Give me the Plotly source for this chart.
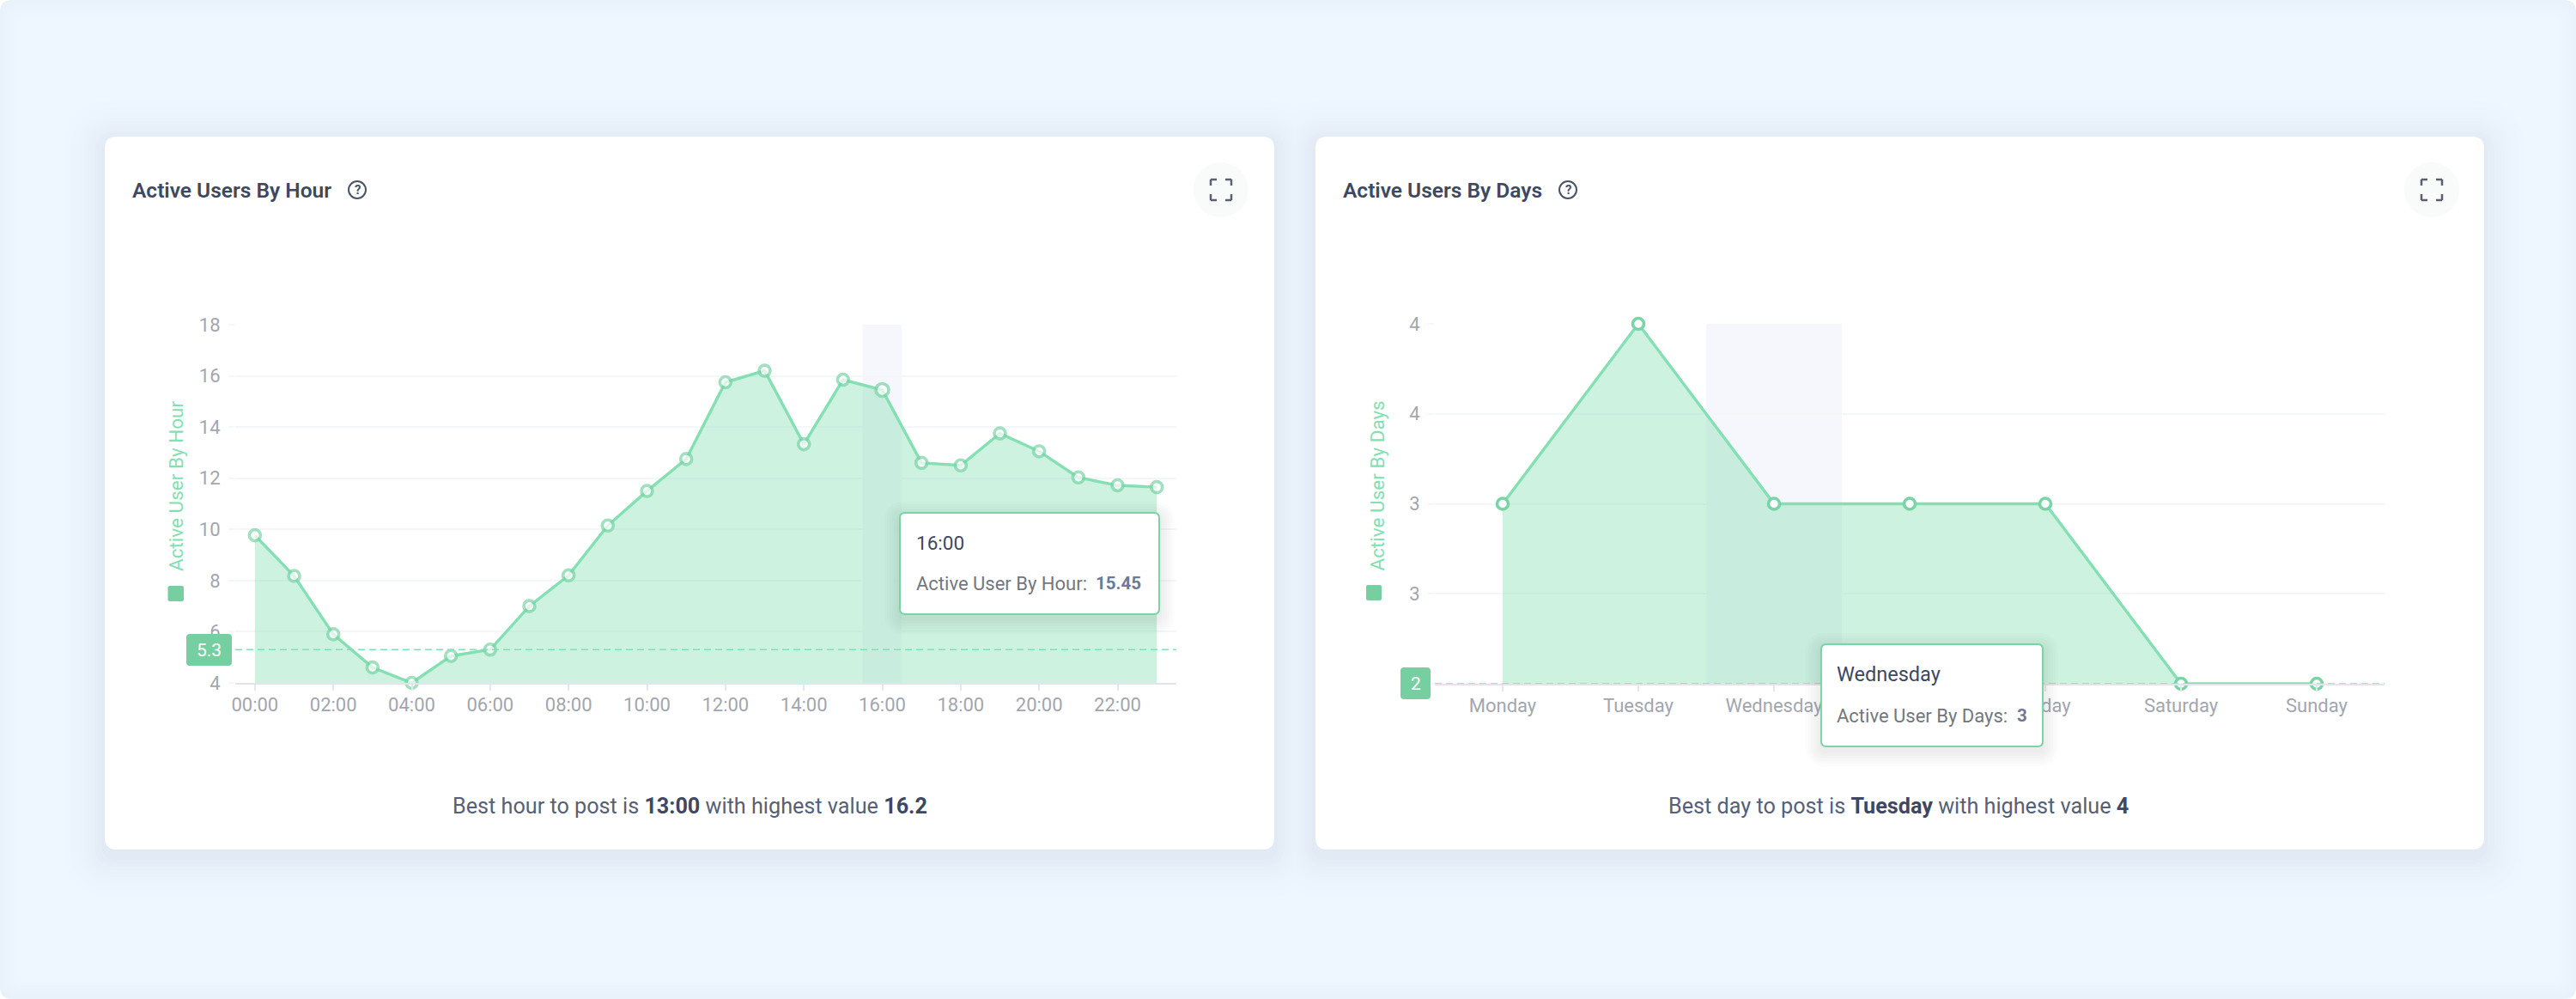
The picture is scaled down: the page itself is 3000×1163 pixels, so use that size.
import plotly.graph_objects as go

W, H = 3000, 1163

HOURS = [f"{h:02d}:00" for h in range(24)]
HOUR_VALUES = [9.77, 8.18, 5.9, 4.6, 4.0, 5.05, 5.3, 7.0, 8.2, 10.15, 11.5, 12.75,
               15.75, 16.2, 13.33, 15.85, 15.45, 12.6, 12.5, 13.75, 13.05, 12.03, 11.72, 11.65]
HOUR_TICKS = HOURS[::2]
HOUR_Y_TICKS = [4, 6, 8, 10, 12, 14, 16, 18]
HOUR_MARK = 5.3
HOUR_HOVER = 16

DAYS = ["Monday", "Tuesday", "Wednesday", "Thursday", "Friday", "Saturday", "Sunday"]
DAY_VALUES = [3, 4, 3, 3, 3, 2, 2]
DAY_Y_TICKS = [2, 2.5, 3, 3.5, 4]
DAY_Y_LABELS = ["2", "3", "3", "4", "4"]
DAY_MARK = 2
DAY_HOVER = 2

GREEN = "#84DFB2"
GREEN_D = "#7AD4A6"
FILL = "rgba(125,221,173,0.38)"
GRID = "#F5F6FA"
TICK = "#A3A6AF"
DARK = "#3E4860"
FONT = "Roboto"


def fx(x):
    return x / W


def fy(y):
    return 1 - y / H


def rr(x0, y0, x1, y1, r):
    X = lambda v: f"{fx(v):.6f}"
    Y = lambda v: f"{fy(v):.6f}"
    return (f"M{X(x0+r)},{Y(y0)} L{X(x1-r)},{Y(y0)} Q{X(x1)},{Y(y0)} {X(x1)},{Y(y0+r)} "
            f"L{X(x1)},{Y(y1-r)} Q{X(x1)},{Y(y1)} {X(x1-r)},{Y(y1)} "
            f"L{X(x0+r)},{Y(y1)} Q{X(x0)},{Y(y1)} {X(x0)},{Y(y1-r)} "
            f"L{X(x0)},{Y(y0+r)} Q{X(x0)},{Y(y0)} {X(x0+r)},{Y(y0)} Z")


shapes = []


def box(x0, y0, x1, y1, r, fill, line=None, lw=0, layer="above"):
    shapes.append(dict(type="path", xref="paper", yref="paper", path=rr(x0, y0, x1, y1, r),
                       fillcolor=fill, line=dict(color=line or "rgba(0,0,0,0)", width=lw), layer=layer))


def seg(x0, y0, x1, y1, color, width=2, layer="above"):
    shapes.append(dict(type="line", xref="paper", yref="paper", x0=fx(x0), y0=fy(y0), x1=fx(x1), y1=fy(y1),
                       line=dict(color=color, width=width), layer=layer))


annotations = []


def text(x, y, s, size, color, anchor="left", angle=0, weight=None):
    font = dict(family=FONT, size=size, color=color)
    if weight:
        font["weight"] = weight
    annotations.append(dict(xref="paper", yref="paper", x=fx(x), y=fy(y), text=s, showarrow=False,
                            xanchor=anchor, yanchor="middle", textangle=angle, font=font))


def mix(a, b, t):
    return "#" + "".join(f"{round(a[i] + (b[i] - a[i]) * t):02X}" for i in range(3))


BG = (238, 246, 255)
EDGE = (233, 241, 250)
SHADOW = (226, 234, 245)

# page background with soft inner edge
for i in range(6):
    box(i * 4, i * 4, W - i * 4, H - i * 4, max(14 - i * 2, 4), mix(EDGE, BG, i / 5), layer="below")

# cards with stacked soft shadow (opaque steps, outermost first)
CARDS = [(122, 159, 1484, 989), (1532, 159, 2893, 989)]
STEPS = 14
for i in range(STEPS):
    g = 56 - i * 4
    t = ((i + 1) / STEPS) ** 2
    for c in CARDS:
        box(c[0] - g, c[1] - g + 6, c[2] + g, c[3] + g + 8, 14 + g, mix(BG, SHADOW, t), layer="below")
for c in CARDS:
    box(*c, 14, "#FFFFFF", layer="below")


def header(c, title, tw):
    x = c[0] + 30
    y = 221
    text(x, y, title, 24.5, DARK, weight=600)
    cx = x + tw + 26
    shapes.append(dict(type="circle", xref="paper", yref="paper", x0=fx(cx - 10), x1=fx(cx + 10),
                       y0=fy(y + 10), y1=fy(y - 10), line=dict(color="#4A5368", width=2),
                       fillcolor="rgba(0,0,0,0)"))
    text(cx, y, "<b>?</b>", 15, "#4A5368", "center")
    ix = c[0] + 1300
    shapes.append(dict(type="circle", xref="paper", yref="paper", x0=fx(ix - 32), x1=fx(ix + 32),
                       y0=fy(y + 32), y1=fy(y - 32), line=dict(width=0), fillcolor="#F9FAFA"))
    a, b, l = 12, 12, 7
    col = "#5A6170"
    for sx in (-1, 1):
        for sy in (-1, 1):
            seg(ix + sx * a, y + sy * b, ix + sx * (a - l), y + sy * b, col, 2.5)
            seg(ix + sx * a, y + sy * b, ix + sx * a, y + sy * (b - l), col, 2.5)


header(CARDS[0], "Active Users By Hour", 238)
header(CARDS[1], "Active Users By Days", 238)

fig = go.Figure()

fig.add_trace(go.Scatter(
    x=HOURS, y=HOUR_VALUES, mode="lines+markers", fill="tozeroy", fillcolor=FILL,
    line=dict(color=GREEN, width=3.4),
    marker=dict(size=[15 if h == HOUR_HOVER else 13 for h in range(24)], color="#FFFFFF",
                line=dict(color=GREEN_D, width=3.6)),
    cliponaxis=False, showlegend=False, hoverinfo="skip", xaxis="x", yaxis="y"))
fig.add_trace(go.Scatter(
    x=DAYS, y=DAY_VALUES, mode="lines+markers", fill="tozeroy", fillcolor=FILL,
    line=dict(color=GREEN, width=3.4),
    marker=dict(size=13, color="#FFFFFF", line=dict(color=GREEN_D, width=3.6)),
    cliponaxis=False, showlegend=False, hoverinfo="skip", xaxis="x2", yaxis="y2"))

# hovered category bands
BAND = "#F5F7FC"
shapes.append(dict(type="rect", xref="x", yref="y domain", x0=HOUR_HOVER - 0.5, x1=HOUR_HOVER + 0.5, y0=0, y1=1,
                   fillcolor=BAND, line=dict(width=0), layer="below"))
shapes.append(dict(type="rect", xref="x2", yref="y2 domain", x0=DAY_HOVER - 0.5, x1=DAY_HOVER + 0.5, y0=0, y1=1,
                   fillcolor=BAND, line=dict(width=0), layer="below"))
# mark lines
shapes.append(dict(type="line", xref="x domain", yref="y", x0=0, x1=1, y0=HOUR_MARK, y1=HOUR_MARK,
                   line=dict(color=GREEN, width=1.6, dash="8px,5px"), layer="above"))
shapes.append(dict(type="line", xref="x2 domain", yref="y2", x0=0, x1=1, y0=DAY_MARK, y1=DAY_MARK,
                   line=dict(color=GREEN, width=1.6, dash="8px,5px"), layer="above"))

# mark badges
box(217, 738, 270, 775, 4, "#75CFA0")
text(243.5, 757, str(HOUR_MARK), 21, "#FFFFFF", "center")
box(1631, 777, 1666, 814, 4, "#75CFA0")
text(1648.5, 796, str(DAY_MARK), 21, "#FFFFFF", "center")

# legend squares and rotated series names
box(195.5, 682, 214, 700, 2, "#75CFA0")
text(205, 566, "Active User By Hour", 22.5, GREEN, "center", -90)
box(1591, 681, 1609, 699, 2, "#75CFA0")
text(1603.5, 566, "Active User By Days", 22.5, GREEN, "center", -90)


def tooltip(x0, y0, x1, y1):
    for i in range(6):
        g = 18 - i * 3
        box(x0 - g, y0 - g + 5, x1 + g, y1 + g + 5, 6 + g, "rgba(50,60,90,0.014)")
    box(x0, y0, x1, y1, 6, "#FFFFFF", GREEN_D, 2)


tooltip(1048, 597, 1350, 715)
text(1064.5, 632, HOURS[HOUR_HOVER], 22.5, DARK)
text(1064.5, 679, "Active User By Hour:", 22, "#73777F")
text(1274, 679, f"<b>{HOUR_VALUES[HOUR_HOVER]}</b>", 20.5, "#6B7A99")

tooltip(2121, 750, 2379, 869)
text(2137, 785, DAYS[DAY_HOVER], 23.5, DARK)
text(2137, 833, "Active User By Days:", 22, "#73777F")
text(2347, 833, f"<b>{DAY_VALUES[DAY_HOVER]}</b>", 20.5, "#6B7A99")

# footers
FOOT = "#566076"
text(803, 938, f"Best hour to post is <b style='color:{DARK}'>13:00</b> with highest value "
               f"<b style='color:{DARK}'>16.2</b>", 25.2, FOOT, "center")
text(2211, 938, f"Best day to post is <b style='color:{DARK}'>Tuesday</b> with highest value "
                f"<b style='color:{DARK}'>4</b>", 25.2, FOOT, "center")

tickfont = dict(family=FONT, size=22, color=TICK)
xcommon = dict(showgrid=False, zeroline=False, showline=True, linecolor="#E1E4EC", linewidth=2,
               ticks="outside", ticklen=7, tickcolor="#E4E7EF", tickwidth=1.5, tickfont=tickfont, tickangle=0,
               ticklabelstandoff=-2, automargin=False)
ycommon = dict(showgrid=True, gridcolor=GRID, gridwidth=1.6, zeroline=False, showline=False,
               ticks="outside", ticklen=7, tickcolor=GRID, tickwidth=1.6, tickfont=tickfont,
               ticklabelstandoff=5, automargin=False)

fig.update_layout(
    width=W, height=H, autosize=False,
    margin=dict(l=0, r=0, t=0, b=0, pad=0),
    paper_bgcolor="#FFFFFF", plot_bgcolor="rgba(0,0,0,0)",
    font=dict(family=FONT),
    shapes=shapes, annotations=annotations,
    xaxis=dict(domain=[fx(274), fx(1370)], anchor="y", type="category", categoryorder="array",
               categoryarray=HOURS, range=[-0.5, 23.5], tickmode="array", tickvals=HOUR_TICKS,
               ticktext=HOUR_TICKS, **xcommon),
    yaxis=dict(domain=[fy(795), fy(378)], anchor="x", range=[4, 18], tickmode="array",
               tickvals=HOUR_Y_TICKS, **ycommon),
    xaxis2=dict(domain=[fx(1671), fx(2777)], anchor="y2", type="category", categoryorder="array",
                categoryarray=DAYS, range=[-0.5, 6.5], tickmode="array", tickvals=DAYS,
                ticktext=DAYS, **xcommon),
    yaxis2=dict(domain=[fy(796), fy(377)], anchor="x2", range=[2, 4], tickmode="array",
                tickvals=DAY_Y_TICKS, ticktext=DAY_Y_LABELS, **ycommon),
)

fig.write_html("out.html", config={"displayModeBar": False},
               post_script="document.body.style.margin='0';window.dispatchEvent(new Event('resize'));")
